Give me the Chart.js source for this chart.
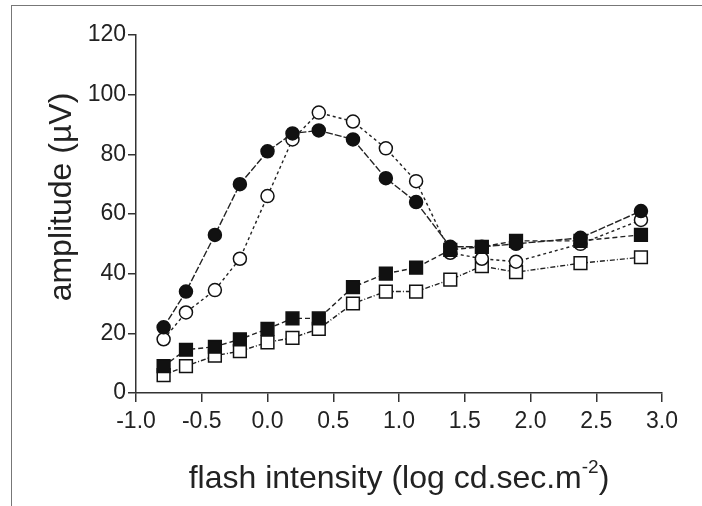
<!DOCTYPE html>
<html>
<head>
<meta charset="utf-8">
<script src="https://cdn.jsdelivr.net/npm/chart.js@4/dist/chart.umd.min.js"></script>
<style>
  body { margin: 0; background: #fff; }
  #wrap { position: relative; width: 702px; height: 506px; overflow: hidden; }
  #frame { position: absolute; left: 11px; top: 5px; width: 720px; height: 520px;
           border-top: 1px solid #777; border-left: 1px solid #777; }
  canvas { position: absolute; left: 0; top: 0; }
</style>
</head>
<body>
<div id="wrap">
  <div id="frame"></div>
  <canvas id="chart" width="702" height="506"></canvas>
</div>
<script>
// flash intensity (log cd.sec.m-2)
const intensity = [-0.79, -0.62, -0.40, -0.21, 0.0, 0.19, 0.39, 0.65, 0.90, 1.13, 1.39, 1.63, 1.89, 2.38, 2.84];

// amplitude (µV) per series
const filledCircles = [22, 34, 53, 70, 81, 87, 88, 85, 72, 64, 49, 49, 50, 52, 61];
const openCircles   = [18, 27, 34.5, 45, 66, 85, 94, 91, 82, 71, 47, 45, 44, 50, 58];
const filledSquares = [9, 14.5, 15.5, 18, 21.5, 25, 25, 35.5, 40, 42, 48, 49, 51, 51, 53];
const openSquares   = [6, 9, 12.5, 14, 17, 18.5, 21.5, 30, 34, 34, 38, 42.5, 40.5, 43.5, 45.5];

const xTicks = [-1.0, -0.5, 0.0, 0.5, 1.0, 1.5, 2.0, 2.5, 3.0];
const yTicks = [0, 20, 40, 60, 80, 100, 120];

const FONT = '"Liberation Sans", Arial, Helvetica, sans-serif';

function pts(ys) {
    return ys.map((y, i) => ({ x: intensity[i], y: y }));
}

function series(data, style, filled, dash) {
    return {
        data: pts(data),
        pointStyle: style,
        pointRadius: style === 'rect' ? 9 : 6.5,
        pointBorderWidth: 1.5,
        pointBorderColor: '#111',
        pointBackgroundColor: filled ? '#111' : '#fff',
        borderColor: '#222',
        borderWidth: 1.4,
        borderDash: dash,
        showLine: true,
        fill: false
    };
}

// axis titles drawn by hand (superscript in the x title)
const axisTitles = {
    id: 'axisTitles',
    afterDraw(chart) {
        const ctx = chart.ctx;
        const a = chart.chartArea;
        ctx.save();
        ctx.fillStyle = '#222';
        ctx.textBaseline = 'alphabetic';
        ctx.textAlign = 'left';

        const big = '32px ' + FONT;
        const small = '19px ' + FONT;
        const p1 = 'flash intensity (log cd.sec.m';
        const sup = '-2';
        const p2 = ')';
        ctx.font = big;
        const w1 = ctx.measureText(p1).width;
        const w3 = ctx.measureText(p2).width;
        ctx.font = small;
        const w2 = ctx.measureText(sup).width;
        let x = (a.left + a.right) / 2 - (w1 + w2 + w3) / 2;
        const base = 488;
        ctx.font = big;
        ctx.fillText(p1, x, base);
        x += w1;
        ctx.font = small;
        ctx.fillText(sup, x, base - 15);
        x += w2;
        ctx.font = big;
        ctx.fillText(p2, x, base);

        ctx.translate(71, 197);
        ctx.rotate(-Math.PI / 2);
        ctx.textAlign = 'center';
        ctx.font = big;
        ctx.fillText('amplitude (\u00b5V)', 0, 0);
        ctx.restore();
    }
};

new Chart(document.getElementById('chart').getContext('2d'), {
    type: 'scatter',
    data: {
        datasets: [
            series(filledCircles, 'circle', true, [7, 2]),
            series(filledSquares, 'rect', true, [5, 3]),
            series(openCircles, 'circle', false, [3, 3]),
            series(openSquares, 'rect', false, [5, 2, 1, 2])
        ]
    },
    options: {
        responsive: false,
        animation: false,
        layout: { padding: { left: 0, right: 40, top: 35, bottom: 0 } },
        plugins: { legend: { display: false }, tooltip: { enabled: false } },
        scales: {
            x: {
                type: 'linear',
                min: -1,
                max: 3,
                afterBuildTicks: s => { s.ticks = xTicks.map(v => ({ value: v })); },
                afterFit: s => { s.height = 113; },
                ticks: {
                    color: '#222',
                    font: { family: FONT, size: 23 },
                    padding: 6,
                    maxRotation: 0,
                    callback: v => v.toFixed(1)
                },
                grid: { drawOnChartArea: false, drawTicks: true, tickLength: 9, color: '#333', lineWidth: 1.5 },
                border: { display: true, color: '#333', width: 1.5 }
            },
            y: {
                type: 'linear',
                min: 0,
                max: 120,
                afterBuildTicks: s => { s.ticks = yTicks.map(v => ({ value: v })); },
                afterFit: s => { s.width = 136; },
                ticks: {
                    color: '#222',
                    font: { family: FONT, size: 23 },
                    padding: 2
                },
                grid: { drawOnChartArea: false, drawTicks: true, tickLength: 8, color: '#333', lineWidth: 1.5 },
                border: { display: true, color: '#333', width: 1.5 }
            }
        }
    },
    plugins: [axisTitles]
});
</script>
</body>
</html>
